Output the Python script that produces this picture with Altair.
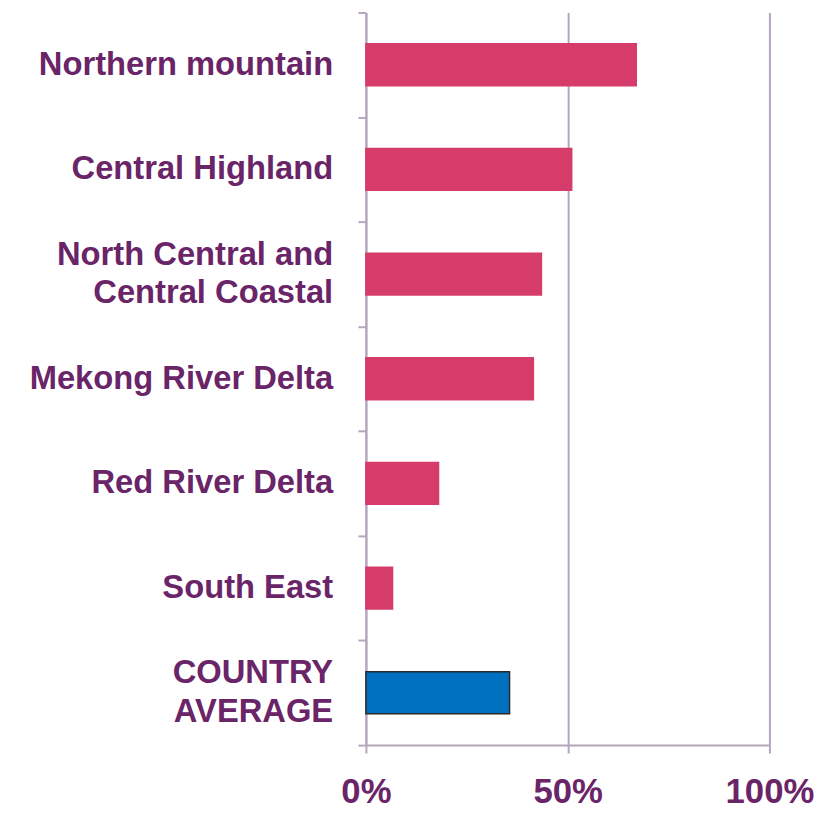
import altair as alt
import pandas as pd

regions = ["Northern mountain", "Central Highland", "North Central and|Central Coastal",
           "Mekong River Delta", "Red River Delta", "South East", "COUNTRY|AVERAGE"]
values = [0.67, 0.51, 0.435, 0.415, 0.18, 0.066, 0.356]
kinds = ["region", "region", "region", "region", "region", "region", "average"]

df = pd.DataFrame({"region": regions, "value": values, "kind": kinds})

axis_color = "#b4a6bc"
text_color = "#6a2468"

y_enc = alt.Y("region:N", sort=regions, title=None,
              scale=alt.Scale(paddingInner=0, paddingOuter=0),
              axis=alt.Axis(labels=False, tickBand="extent", tickSize=8, tickColor=axis_color,
                            domainColor=axis_color, domainWidth=2, tickWidth=2))

bars = alt.Chart(df).mark_bar(strokeWidth=1.5, height={"band": 0.4}).encode(
    y=y_enc,
    x=alt.X("value:Q", title=None,
            scale=alt.Scale(domain=[0, 1], nice=False),
            axis=alt.Axis(values=[0, 0.5, 1], format=".0%", labelFont="Liberation Sans",
                          labelFontWeight="bold", labelFontSize=35, labelColor=text_color,
                          labelPadding=22, tickSize=8, tickColor=axis_color, tickWidth=2,
                          domainColor=axis_color, domainWidth=2, grid=True,
                          gridColor=axis_color, gridWidth=2, labelFlush=False)),
    color=alt.Color("kind:N", legend=None,
                    scale=alt.Scale(domain=["region", "average"], range=["#d63c69", "#0070c0"])),
    stroke=alt.Stroke("kind:N", legend=None,
                      scale=alt.Scale(domain=["region", "average"], range=["#d63c69", "#2b2b2b"])),
)

label_style = dict(align="right", baseline="middle", font="Liberation Sans", fontWeight="bold",
                   fontSize=33, color=text_color, lineBreak="|", lineHeight=39)

single = alt.Chart(df).transform_filter(
    "indexof(datum.region, '|') < 0"
).mark_text(**label_style).encode(
    y=alt.Y("region:N", sort=regions), x=alt.value(-33), text="region:N")

multi = alt.Chart(df).transform_filter(
    "indexof(datum.region, '|') >= 0"
).mark_text(dy=-19.5, **label_style).encode(
    y=alt.Y("region:N", sort=regions), x=alt.value(-33), text="region:N")

chart = alt.layer(bars, single, multi).properties(
    width=407, height=739,
    autosize=alt.AutoSizeParams(type="none"),
    padding={"left": 361, "top": 1, "right": 48, "bottom": 66},
).configure_view(stroke=None)

chart.save("out.html", embed_options={"renderer": "svg", "actions": False})
